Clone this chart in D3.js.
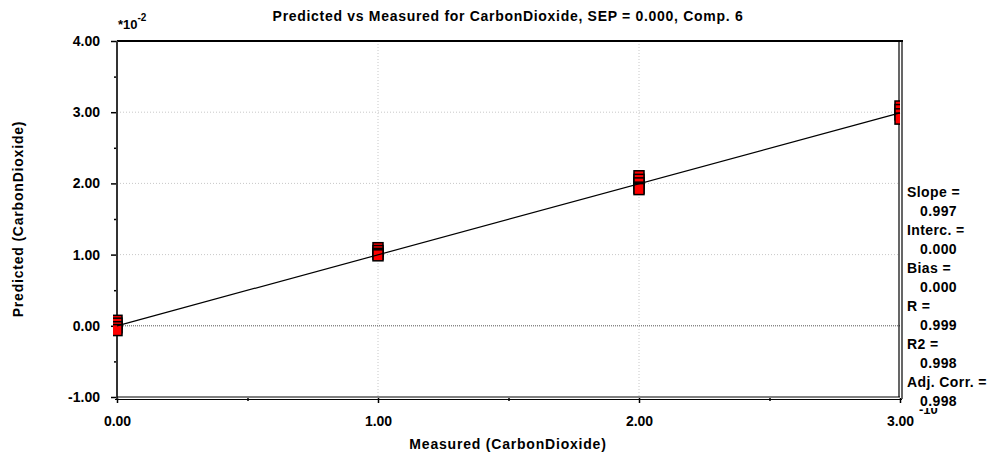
<!DOCTYPE html>
<html lang="en">
<head>
<meta charset="UTF-8">
<title>Predicted vs Measured</title>
<script src="https://d3js.org/d3.v7.min.js"></script>
<style>
  body { margin: 0; background: #fff; }
  text { font-family: "Liberation Sans", Arial, sans-serif; font-weight: bold; fill: #000; }
</style>
</head>
<body>
<svg width="995" height="459"></svg>
<script>
// measured levels and predicted values (in units of 1e-10 / 1e-2)
const measured = [0, 1, 2, 3];
const predicted = [
  [0.07, 0.03, -0.02, -0.06],
  [1.09, 1.05, 1.01, 0.99],
  [2.10, 2.05, 2.00, 1.94, 1.92],
  [3.08, 3.03, 2.97, 2.91]
];
const slope = 0.997, intercept = 0.0;
const xTicks = [0, 1, 2, 3];
const yTicks = [-1, 0, 1, 2, 3, 4];
const stats = [
  ["Slope =", "0.997"], ["Interc. =", "0.000"], ["Bias =", "0.000"],
  ["R =", "0.999"], ["R2 =", "0.998"], ["Adj. Corr. =", "0.998"]
];

const svg = d3.select("svg");
const pLeft = 117, pRight = 900, pTop = 41, pBottom = 397;

const x = d3.scaleLinear().domain([0, 3]).range([pLeft, pRight]);
const y = d3.scaleLinear().domain([-1, 4]).range([pBottom, pTop]);
const fmt = d => d.toFixed(2);

// grid
const grid = svg.append("g");
grid.selectAll("line.gx").data([1, 2]).enter().append("line")
  .attr("x1", d => x(d)).attr("x2", d => x(d)).attr("y1", pTop).attr("y2", pBottom)
  .attr("stroke", "#c8c8c8").attr("stroke-dasharray", "1,2");
grid.selectAll("line.gy").data([1, 2, 3]).enter().append("line")
  .attr("y1", d => y(d)).attr("y2", d => y(d)).attr("x1", pLeft).attr("x2", pRight)
  .attr("stroke", "#c8c8c8").attr("stroke-dasharray", "1,2");
grid.append("line")
  .attr("y1", y(0)).attr("y2", y(0)).attr("x1", pLeft).attr("x2", pRight)
  .attr("stroke", "#555").attr("stroke-dasharray", "1,1");

// axes
const xAxis = d3.axisBottom(x).tickValues(xTicks).tickFormat(fmt).tickSize(5).tickPadding(13);
const xMinor = d3.axisBottom(x).tickValues([0.5, 1.5, 2.5]).tickFormat("").tickSize(3);
const yAxis = d3.axisLeft(y).tickValues(yTicks).tickFormat(fmt).tickSize(6).tickPadding(11);
const yMinor = d3.axisLeft(y).tickValues([-0.5, 0.5, 1.5, 2.5, 3.5]).tickFormat("").tickSize(3);

function styleAxis(g) {
  g.select(".domain").remove();
  g.selectAll(".tick line").attr("stroke", "#000").attr("stroke-width", 1.5);
  g.selectAll(".tick text").attr("font-size", 14).attr("font-family", null);
}
svg.append("g").attr("transform", `translate(0,${pBottom + 1})`).call(xAxis).call(styleAxis);
svg.append("g").attr("transform", `translate(0,${pBottom + 1})`).call(xMinor).call(styleAxis);
svg.append("g").attr("transform", `translate(${pLeft},0)`).call(yAxis).call(styleAxis);
svg.append("g").attr("transform", `translate(${pLeft},0)`).call(yMinor).call(styleAxis);

// frame
svg.append("line").attr("x1", pLeft).attr("x2", pRight + 3).attr("y1", pTop).attr("y2", pTop)
  .attr("stroke", "#000").attr("stroke-width", 2);
svg.append("line").attr("x1", pLeft).attr("x2", pLeft).attr("y1", pTop).attr("y2", pBottom + 2)
  .attr("stroke", "#333").attr("stroke-width", 2);
svg.append("line").attr("x1", pRight - 1).attr("x2", pRight - 1).attr("y1", pTop).attr("y2", pBottom)
  .attr("stroke", "#000").attr("stroke-width", 1.2);
svg.append("line").attr("x1", pRight + 2).attr("x2", pRight + 2).attr("y1", pTop).attr("y2", pBottom + 2)
  .attr("stroke", "#000").attr("stroke-width", 1.2);
svg.append("line").attr("x1", pLeft).attr("x2", pRight).attr("y1", pBottom).attr("y2", pBottom)
  .attr("stroke", "#000").attr("stroke-width", 1.2);
svg.append("line").attr("x1", pLeft - 2).attr("x2", pRight + 2).attr("y1", pBottom + 2.5).attr("y2", pBottom + 2.5)
  .attr("stroke", "#000").attr("stroke-width", 1.2);

// points
svg.append("clipPath").attr("id", "clip").append("rect")
  .attr("x", pLeft - 4).attr("y", pTop).attr("width", pRight - pLeft + 4).attr("height", pBottom - pTop);
const pts = measured.flatMap((m, i) => predicted[i].map(p => ({ m, p })));
svg.append("g").attr("clip-path", "url(#clip)")
  .selectAll("rect").data(pts).enter().append("rect")
  .attr("x", d => x(d.m) - 5).attr("y", d => y(d.p) - 5.5)
  .attr("width", 10).attr("height", 11)
  .attr("fill", "#ff0000").attr("stroke", "#000").attr("stroke-width", 1.5);

// regression line
svg.append("line")
  .attr("x1", x(0)).attr("y1", y(intercept))
  .attr("x2", x(3)).attr("y2", y(intercept + slope * 3))
  .attr("stroke", "#000").attr("stroke-width", 1.2);

// title and labels
svg.append("text").attr("x", 508).attr("y", 21).attr("text-anchor", "middle")
  .attr("font-size", 14).attr("letter-spacing", 0.7)
  .text("Predicted vs Measured for CarbonDioxide, SEP = 0.000, Comp. 6");

const exp = svg.append("text").attr("x", 118).attr("y", 29).attr("font-size", 13);
exp.append("tspan").text("*10");
exp.append("tspan").attr("dy", -8).attr("font-size", 10).text("-2");

svg.append("text").attr("x", 508).attr("y", 449).attr("text-anchor", "middle")
  .attr("font-size", 14).attr("letter-spacing", 0.8).text("Measured (CarbonDioxide)");
svg.append("text").attr("transform", "translate(23,219) rotate(-90)").attr("text-anchor", "middle")
  .attr("font-size", 14).attr("letter-spacing", 0.8).text("Predicted (CarbonDioxide)");

svg.append("text").attr("x", 919).attr("y", 414).attr("font-size", 13).text("-10");

// stats
const st = svg.append("g");
stats.forEach((s, i) => {
  st.append("text").attr("x", 907).attr("y", 197 + i * 38).attr("font-size", 14).attr("letter-spacing", 0.4).text(s[0]);
  const v = st.append("text").attr("x", 920).attr("y", 216 + i * 38).attr("font-size", 14).attr("letter-spacing", 0.4).text(s[1]);
  if (i === stats.length - 1) {
    const bb = v.node().getBBox();
    st.insert("rect", () => v.node()).attr("x", bb.x).attr("y", bb.y + 2).attr("width", bb.width).attr("height", bb.height - 3).attr("fill", "#fff");
  }
});
</script>
</body>
</html>
